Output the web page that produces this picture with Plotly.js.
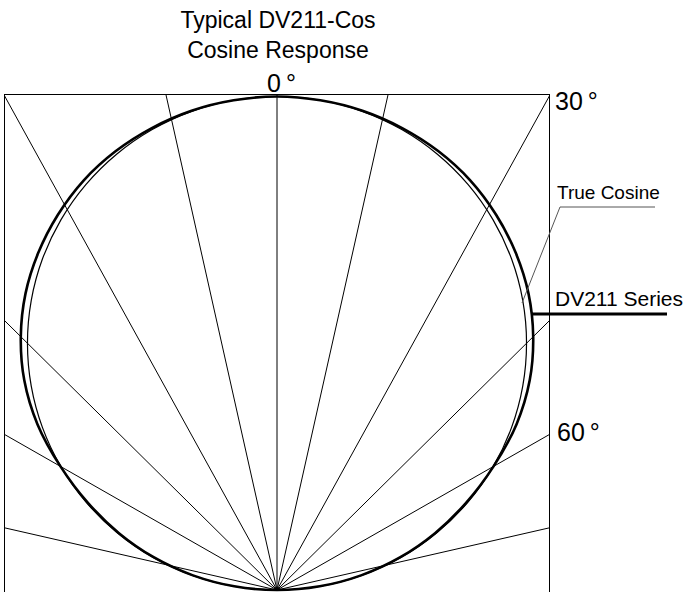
<!DOCTYPE html>
<html>
<head>
<meta charset="utf-8">
<script src="https://cdn.plot.ly/plotly-3.0.1.min.js"></script>
<style>html,body{margin:0;padding:0;background:#fff;}#chart{width:692px;height:592px;}</style>
</head>
<body>
<div id="chart"></div>
<script>
// Incidence angles (degrees from normal), one half of the symmetric response
const halfAngles = [0, 5, 10, 15, 20, 25, 30, 35, 40, 45, 50, 55, 60, 65, 70, 75, 80, 85, 90];
// Relative response of an ideal cosine receiver
const trueCosine = [1.000, 0.9962, 0.9848, 0.9659, 0.9397, 0.9063, 0.8660, 0.8192, 0.7660, 0.7071,
                    0.6428, 0.5736, 0.5000, 0.4226, 0.3420, 0.2588, 0.1736, 0.0872, 0.000];
// Relative response of the DV211 series
const dv211 = [1.000, 0.996, 0.986, 0.969, 0.946, 0.916, 0.878, 0.834, 0.784, 0.726,
               0.661, 0.586, 0.501, 0.418, 0.337, 0.255, 0.171, 0.086, 0.000];
// Angular guide lines drawn from the sensor (as drawn in the picture)
const guideAngles = [-77, -60, -45, -28.6, -12.5, 0, 12.5, 28.6, 45, 60, 77];
// Angle labels
const angleLabels = ['0\u2009°', '30\u2009°', '60\u2009°'];

const deg = Math.PI / 180;
function polarCurve(angles, values) {
  const a = [], v = [];
  for (let i = angles.length - 1; i > 0; i--) { a.push(-angles[i]); v.push(values[i]); }
  for (let i = 0; i < angles.length; i++) { a.push(angles[i]); v.push(values[i]); }
  return {
    x: a.map((t, i) => v[i] * Math.sin(t * deg)),
    y: a.map((t, i) => v[i] * Math.cos(t * deg))
  };
}

const gx = [], gy = [];
guideAngles.forEach(t => {
  gx.push(0, 2 * Math.sin(t * deg), null);
  gy.push(0, 2 * Math.cos(t * deg), null);
});

const tc = polarCurve(halfAngles, trueCosine);
const dv = polarCurve(halfAngles, dv211);

const traces = [
  {x: gx, y: gy, mode: 'lines', line: {color: '#000', width: 1}, hoverinfo: 'skip', showlegend: false},
  {x: tc.x, y: tc.y, mode: 'lines', name: 'True Cosine', line: {color: '#000', width: 1.2, shape: 'spline'}, showlegend: false},
  {x: dv.x, y: dv.y, mode: 'lines', name: 'DV211 Series', line: {color: '#000', width: 2.6, shape: 'spline'}, showlegend: false}
];

// pixel helpers for annotation placement
const L = 5, R = 549, T = 95, B = 592;
const px = v => (v - L) / (R - L);
const py = v => (B - v) / (B - T);
const font = 'Liberation Sans, Arial, Helvetica, sans-serif';

const layout = {
  width: 692, height: 592,
  margin: {l: L, r: 692 - R, t: T, b: 592 - B, pad: 0},
  paper_bgcolor: '#fff', plot_bgcolor: '#fff',
  title: {text: 'Typical DV211-Cos<br>Cosine Response', font: {family: font, size: 23, color: '#000'},
          x: px(278), xref: 'paper', xanchor: 'center', y: 1 - 28 / 592, yref: 'container', yanchor: 'middle'},
  xaxis: {range: [-0.545, 0.545], showgrid: false, zeroline: false, showticklabels: false, ticks: '',
          showline: true, mirror: true, linecolor: '#000', linewidth: 1, fixedrange: true},
  yaxis: {range: [-0.004, 1.003], showgrid: false, zeroline: false, showticklabels: false, ticks: '',
          showline: true, mirror: true, linecolor: '#000', linewidth: 1, fixedrange: true},
  annotations: [
    {text: angleLabels[0], xref: 'paper', yref: 'paper', x: px(281), y: py(83), xanchor: 'center', yanchor: 'middle',
     showarrow: false, font: {family: font, size: 25, color: '#000'}},
    {text: angleLabels[1], xref: 'paper', yref: 'paper', x: px(553), y: py(101), xanchor: 'left', yanchor: 'middle',
     showarrow: false, font: {family: font, size: 25, color: '#000'}},
    {text: angleLabels[2], xref: 'paper', yref: 'paper', x: px(555), y: py(432), xanchor: 'left', yanchor: 'middle',
     showarrow: false, font: {family: font, size: 25, color: '#000'}},
    {text: 'True Cosine', xref: 'paper', yref: 'paper', x: px(555), y: py(205), xanchor: 'left', yanchor: 'bottom',
     showarrow: false, font: {family: font, size: 19, color: '#000'}},
    {text: 'DV211 Series', xref: 'paper', yref: 'paper', x: px(553), y: py(312), xanchor: 'left', yanchor: 'bottom',
     showarrow: false, font: {family: font, size: 21, color: '#000'}}
  ],
  shapes: [
    {type: 'line', xref: 'paper', yref: 'paper', x0: px(560), y0: py(207), x1: px(655), y1: py(207),
     line: {color: '#555', width: 1}},
    {type: 'line', xref: 'paper', yref: 'paper', x0: px(560), y0: py(207), x1: px(522), y1: py(303),
     line: {color: '#555', width: 1}},
    {type: 'line', xref: 'paper', yref: 'paper', x0: px(532), y0: py(314), x1: px(667), y1: py(314),
     line: {color: '#000', width: 3}}
  ]
};

Plotly.newPlot('chart', traces, layout, {displayModeBar: false, staticPlot: true});
</script>
</body>
</html>
